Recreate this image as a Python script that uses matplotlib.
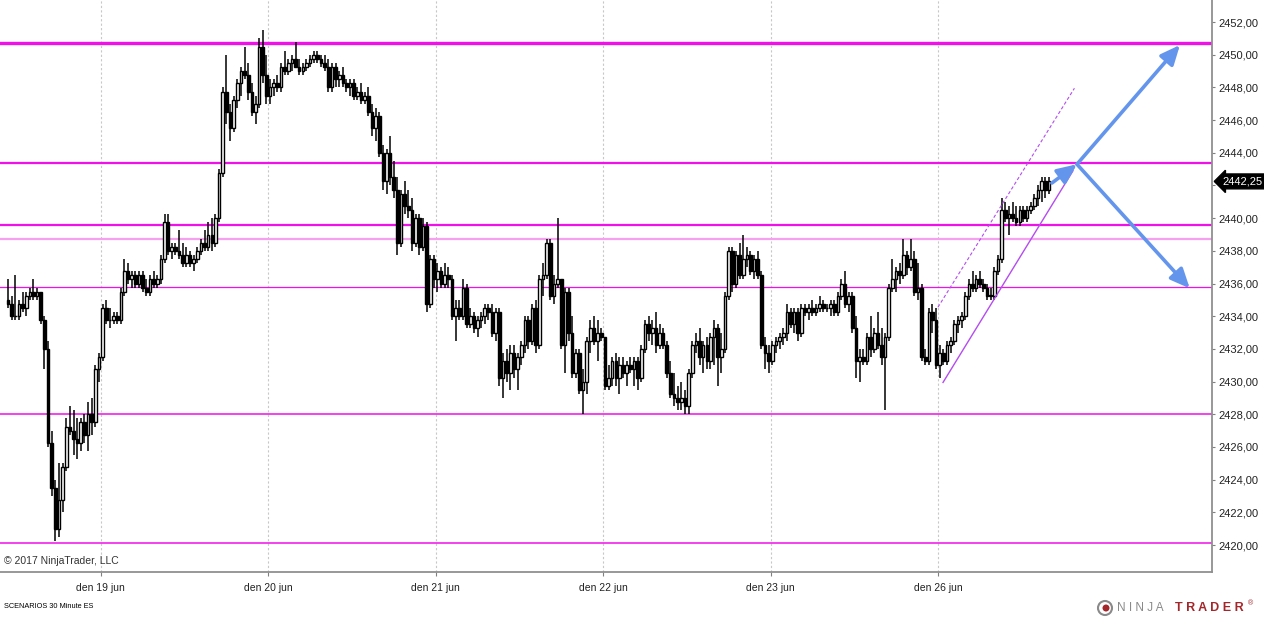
import numpy as np
import matplotlib.pyplot as plt
from matplotlib.patches import Circle
from matplotlib.transforms import IdentityTransform

plt.rcParams['font.family'] = ['Liberation Sans', 'DejaVu Sans']

# 30 minute ES bars
opens = [
    2435.0, 2434.75, 2434.0, 2434.0, 2434.75, 2434.5, 2435.25, 2435.5, 2435.25, 2435.5,
    2433.75, 2432.0, 2426.25, 2423.5, 2421.0, 2422.75, 2424.75, 2427.25, 2427.0, 2426.5,
    2426.25, 2427.5, 2426.75, 2428.0, 2427.5, 2430.75, 2431.5, 2434.5, 2433.75, 2433.75,
    2434.0, 2433.75, 2435.5, 2436.75, 2436.25, 2436.5, 2436.0, 2436.5, 2435.75, 2435.5,
    2436.25, 2436.0, 2436.25, 2437.5, 2439.75, 2438.0, 2438.25, 2438.0, 2437.75, 2437.25,
    2437.75, 2437.25, 2437.5, 2438.0, 2438.5, 2438.25, 2439.0, 2438.5, 2440.0, 2442.75,
    2447.75, 2446.5, 2445.5, 2447.25, 2448.25, 2449.0, 2448.75, 2447.75, 2446.5, 2447.0,
    2450.5, 2448.75, 2447.5, 2448.0, 2448.25, 2448.0, 2449.25, 2449.0, 2449.5, 2449.75,
    2449.25, 2449.0, 2449.25, 2449.5, 2449.75, 2450.0, 2449.75, 2449.5, 2449.25, 2448.0,
    2449.25, 2448.5, 2448.75, 2448.25, 2448.0, 2448.25, 2447.5, 2447.75, 2447.25, 2447.5,
    2446.5, 2445.5, 2446.25, 2444.0, 2442.25, 2444.0, 2442.5, 2441.75, 2438.5, 2441.5,
    2440.75, 2440.5, 2438.5, 2440.0, 2438.25, 2439.5, 2434.75, 2437.5, 2436.25, 2436.75,
    2436.0, 2436.5, 2436.25, 2434.0, 2434.5, 2434.0, 2435.75, 2433.5, 2434.0, 2433.25,
    2433.75, 2434.0, 2434.5, 2434.25, 2433.0, 2434.25, 2430.25, 2431.25, 2430.5, 2431.75,
    2430.75, 2431.5, 2432.25, 2433.75, 2432.5, 2434.5, 2432.25, 2436.25, 2436.5, 2438.5,
    2435.25, 2436.0, 2436.25, 2432.25, 2435.5, 2433.0, 2430.5, 2431.75, 2429.5, 2430.0,
    2432.5, 2433.25, 2432.5, 2433.0, 2432.75, 2429.75, 2430.25, 2431.25, 2430.25, 2431.0,
    2430.5, 2431.0, 2430.75, 2431.25, 2430.25, 2432.0, 2433.5, 2433.0, 2433.25, 2432.25,
    2433.0, 2432.25, 2430.5, 2429.25, 2429.0, 2428.75, 2429.0, 2428.5, 2430.5, 2432.25,
    2432.5, 2431.5, 2432.25, 2431.25, 2432.75, 2433.25, 2431.5, 2432.0, 2435.25, 2438.0,
    2436.0, 2437.75, 2436.5, 2437.5, 2437.75, 2436.75, 2437.5, 2436.5, 2432.25, 2431.75,
    2431.25, 2432.25, 2432.5, 2432.75, 2433.0, 2434.25, 2433.5, 2434.25, 2433.0, 2434.5,
    2434.25, 2434.5, 2434.25, 2434.5, 2434.75, 2434.5, 2434.5, 2434.75, 2434.25, 2435.25,
    2436.0, 2434.75, 2435.25, 2433.25, 2431.25, 2431.5, 2431.25, 2432.75, 2432.0, 2433.0,
    2432.25, 2431.5, 2432.75, 2435.75, 2436.25, 2436.75, 2436.5, 2437.75, 2437.0, 2437.5,
    2435.5, 2435.75, 2431.5, 2431.25, 2434.25, 2433.75, 2431.0, 2431.75, 2431.25, 2432.25,
    2432.5, 2433.5, 2433.75, 2434.0, 2435.25, 2436.0, 2435.75, 2436.25, 2436.0, 2435.75,
    2435.25, 2435.25, 2436.75, 2437.5, 2440.5, 2440.0, 2440.25, 2440.0, 2439.75, 2440.5,
    2440.0, 2440.5, 2440.75, 2441.25, 2441.75, 2442.25, 2441.75,
]
highs = [
    2436.25, 2435.25, 2436.5, 2435.0, 2435.5, 2435.5, 2435.75, 2436.25, 2435.75, 2435.5,
    2434.0, 2432.5, 2427.0, 2424.0, 2425.0, 2425.0, 2427.75, 2428.5, 2428.25, 2427.75,
    2427.75, 2428.0, 2428.75, 2429.0, 2431.0, 2431.75, 2434.75, 2435.0, 2434.5, 2434.25,
    2434.25, 2435.75, 2437.5, 2437.25, 2436.75, 2436.75, 2436.75, 2436.75, 2436.25, 2436.5,
    2436.75, 2436.5, 2437.75, 2440.25, 2440.25, 2438.5, 2438.5, 2439.25, 2438.5, 2438.25,
    2438.0, 2437.75, 2438.25, 2438.75, 2439.25, 2439.75, 2440.0, 2440.25, 2443.0, 2448.0,
    2450.0, 2447.0, 2447.5, 2448.5, 2449.25, 2450.5, 2449.5, 2448.25, 2447.5, 2451.0,
    2451.5, 2450.0, 2448.5, 2448.5, 2448.75, 2449.5, 2450.25, 2449.75, 2450.0, 2450.75,
    2449.75, 2449.5, 2449.75, 2450.0, 2450.25, 2450.25, 2450.0, 2450.0, 2449.75, 2449.5,
    2449.5, 2449.0, 2449.25, 2448.5, 2448.5, 2448.5, 2448.0, 2448.25, 2447.75, 2448.0,
    2447.0, 2446.75, 2446.5, 2444.5, 2444.25, 2445.0, 2443.5, 2442.5, 2441.75, 2442.25,
    2441.75, 2441.25, 2440.25, 2440.25, 2440.0, 2439.75, 2437.75, 2437.75, 2437.25, 2437.0,
    2437.25, 2437.0, 2436.5, 2435.0, 2435.0, 2436.25, 2436.0, 2434.5, 2434.25, 2434.0,
    2434.25, 2434.75, 2434.75, 2434.75, 2434.5, 2434.5, 2431.75, 2432.0, 2432.25, 2432.25,
    2431.75, 2432.5, 2434.0, 2434.0, 2434.75, 2435.0, 2436.5, 2437.25, 2438.75, 2438.75,
    2436.5, 2440.0, 2436.25, 2435.75, 2435.75, 2434.0, 2432.0, 2432.0, 2430.75, 2432.75,
    2433.75, 2434.0, 2433.75, 2433.25, 2432.75, 2431.0, 2431.5, 2431.75, 2431.5, 2431.5,
    2431.25, 2431.5, 2431.5, 2431.5, 2432.25, 2433.75, 2434.0, 2433.75, 2434.25, 2433.5,
    2433.25, 2432.5, 2431.25, 2430.5, 2429.75, 2430.0, 2429.5, 2430.75, 2432.5, 2433.0,
    2433.25, 2432.5, 2432.75, 2433.0, 2433.75, 2433.5, 2433.0, 2435.5, 2438.25, 2438.25,
    2438.0, 2438.5, 2439.0, 2438.25, 2438.0, 2437.75, 2438.0, 2436.75, 2432.75, 2432.25,
    2432.5, 2432.75, 2433.0, 2433.25, 2434.75, 2434.5, 2434.5, 2434.5, 2434.75, 2434.75,
    2434.75, 2435.0, 2434.75, 2435.25, 2435.0, 2434.75, 2435.0, 2435.0, 2435.5, 2436.25,
    2436.75, 2435.5, 2435.5, 2434.0, 2432.0, 2432.0, 2433.0, 2434.0, 2433.25, 2434.25,
    2433.25, 2433.0, 2436.0, 2437.5, 2437.0, 2437.25, 2438.75, 2438.0, 2438.75, 2438.0,
    2437.25, 2436.0, 2432.0, 2434.5, 2434.75, 2434.5, 2432.25, 2432.0, 2432.5, 2432.75,
    2433.75, 2434.0, 2434.25, 2435.5, 2436.25, 2436.75, 2436.5, 2436.75, 2436.25, 2436.0,
    2435.75, 2437.0, 2437.75, 2441.25, 2441.0, 2440.75, 2441.0, 2440.75, 2440.75, 2440.75,
    2440.75, 2441.0, 2441.5, 2442.0, 2442.5, 2442.5, 2442.5,
]
lows = [
    2434.5, 2433.75, 2433.75, 2433.75, 2434.25, 2434.0, 2435.0, 2435.0, 2435.0, 2433.5,
    2430.75, 2426.0, 2423.0, 2420.25, 2420.5, 2422.0, 2424.5, 2426.75, 2425.5, 2425.25,
    2425.75, 2426.25, 2425.75, 2426.75, 2427.25, 2430.0, 2431.25, 2433.5, 2433.25, 2433.5,
    2433.5, 2433.5, 2435.25, 2436.0, 2435.75, 2435.75, 2435.75, 2435.5, 2435.25, 2435.25,
    2435.75, 2435.75, 2436.0, 2437.25, 2437.75, 2437.5, 2437.75, 2437.5, 2437.0, 2437.0,
    2437.0, 2436.75, 2437.25, 2437.75, 2438.0, 2438.0, 2438.0, 2438.25, 2439.75, 2442.5,
    2445.75, 2444.75, 2445.25, 2446.75, 2447.5, 2448.5, 2447.25, 2446.25, 2445.75, 2446.75,
    2448.25, 2447.0, 2447.0, 2447.5, 2447.75, 2447.75, 2448.75, 2448.75, 2449.0, 2449.25,
    2448.75, 2448.75, 2449.0, 2449.25, 2449.5, 2449.5, 2449.25, 2449.0, 2447.75, 2447.75,
    2448.0, 2448.0, 2448.0, 2447.75, 2447.5, 2447.25, 2447.25, 2447.0, 2447.0, 2446.25,
    2445.0, 2444.75, 2443.75, 2441.75, 2441.5, 2442.0, 2441.25, 2437.75, 2438.25, 2440.25,
    2440.0, 2438.0, 2438.25, 2437.75, 2438.0, 2434.25, 2434.5, 2435.75, 2435.5, 2435.75,
    2435.75, 2435.75, 2433.75, 2432.5, 2433.75, 2433.75, 2433.25, 2433.25, 2433.0, 2432.75,
    2433.25, 2433.5, 2433.75, 2432.75, 2432.5, 2429.75, 2429.0, 2430.0, 2429.5, 2430.25,
    2429.5, 2431.0, 2431.75, 2432.0, 2432.25, 2431.75, 2432.0, 2435.25, 2436.25, 2435.0,
    2434.75, 2435.75, 2432.0, 2430.5, 2432.5, 2430.25, 2430.25, 2429.25, 2428.0, 2429.25,
    2431.75, 2432.25, 2431.25, 2432.5, 2429.5, 2429.5, 2429.75, 2429.75, 2429.25, 2430.25,
    2429.75, 2430.5, 2429.75, 2429.5, 2430.0, 2431.75, 2432.5, 2432.25, 2431.75, 2432.0,
    2432.0, 2430.25, 2429.0, 2428.5, 2428.25, 2428.25, 2428.0, 2428.0, 2430.25, 2431.75,
    2431.0, 2430.5, 2430.75, 2430.75, 2431.0, 2429.75, 2430.5, 2431.75, 2435.0, 2435.5,
    2435.75, 2436.25, 2436.25, 2437.0, 2436.5, 2436.25, 2436.25, 2432.0, 2430.75, 2430.5,
    2431.0, 2431.75, 2432.0, 2432.25, 2432.5, 2433.25, 2433.0, 2432.5, 2432.75, 2434.0,
    2433.75, 2434.0, 2434.0, 2434.25, 2434.25, 2434.25, 2434.0, 2434.0, 2434.0, 2435.0,
    2434.5, 2434.25, 2433.0, 2430.25, 2430.0, 2431.0, 2431.0, 2431.5, 2431.75, 2432.0,
    2431.0, 2428.25, 2432.5, 2435.5, 2435.5, 2436.0, 2436.25, 2436.5, 2436.75, 2435.25,
    2435.0, 2431.25, 2431.0, 2431.0, 2433.0, 2430.75, 2430.25, 2431.0, 2431.0, 2431.75,
    2432.25, 2433.0, 2433.25, 2433.75, 2435.0, 2435.5, 2435.5, 2435.75, 2435.5, 2435.0,
    2435.0, 2435.0, 2436.5, 2437.25, 2439.75, 2439.0, 2439.75, 2439.5, 2439.5, 2439.75,
    2439.75, 2440.25, 2440.5, 2440.75, 2441.0, 2441.25, 2441.5,
]
closes = [
    2434.75, 2434.0, 2434.0, 2434.75, 2434.5, 2435.25, 2435.5, 2435.25, 2435.5, 2433.75,
    2432.0, 2426.25, 2423.5, 2421.0, 2422.75, 2424.75, 2427.25, 2427.0, 2426.5, 2426.25,
    2427.5, 2426.75, 2428.0, 2427.5, 2430.75, 2431.5, 2434.5, 2433.75, 2433.75, 2434.0,
    2433.75, 2435.5, 2436.75, 2436.25, 2436.5, 2436.0, 2436.5, 2435.75, 2435.5, 2436.25,
    2436.0, 2436.25, 2437.5, 2439.75, 2438.0, 2438.25, 2438.0, 2437.75, 2437.25, 2437.75,
    2437.25, 2437.5, 2438.0, 2438.5, 2438.25, 2439.0, 2438.5, 2440.0, 2442.75, 2447.75,
    2446.5, 2445.5, 2447.25, 2448.25, 2449.0, 2448.75, 2447.75, 2446.5, 2447.0, 2450.5,
    2448.75, 2447.5, 2448.0, 2448.25, 2448.0, 2449.25, 2449.0, 2449.5, 2449.75, 2449.25,
    2449.0, 2449.25, 2449.5, 2449.75, 2450.0, 2449.75, 2449.5, 2449.25, 2448.0, 2449.25,
    2448.5, 2448.75, 2448.25, 2448.0, 2448.25, 2447.5, 2447.75, 2447.25, 2447.5, 2446.5,
    2445.5, 2446.25, 2444.0, 2442.25, 2444.0, 2442.5, 2441.75, 2438.5, 2441.5, 2440.75,
    2440.5, 2438.5, 2440.0, 2438.25, 2439.5, 2434.75, 2437.5, 2436.25, 2436.75, 2436.0,
    2436.5, 2436.25, 2434.0, 2434.5, 2434.0, 2435.75, 2433.5, 2434.0, 2433.25, 2433.75,
    2434.0, 2434.5, 2434.25, 2433.0, 2434.25, 2430.25, 2431.25, 2430.5, 2431.75, 2430.75,
    2431.5, 2432.25, 2433.75, 2432.5, 2434.5, 2432.25, 2436.25, 2436.5, 2438.5, 2435.25,
    2436.0, 2436.25, 2432.25, 2435.5, 2433.0, 2430.5, 2431.75, 2429.5, 2430.0, 2432.5,
    2433.25, 2432.5, 2433.0, 2432.75, 2429.75, 2430.25, 2431.25, 2430.25, 2431.0, 2430.5,
    2431.0, 2430.75, 2431.25, 2430.25, 2432.0, 2433.5, 2433.0, 2433.25, 2432.25, 2433.0,
    2432.25, 2430.5, 2429.25, 2429.0, 2428.75, 2429.0, 2428.5, 2430.5, 2432.25, 2432.5,
    2431.5, 2432.25, 2431.25, 2432.75, 2433.25, 2431.5, 2432.0, 2435.25, 2438.0, 2436.0,
    2437.75, 2436.5, 2437.5, 2437.75, 2436.75, 2437.5, 2436.5, 2432.25, 2431.75, 2431.25,
    2432.25, 2432.5, 2432.75, 2433.0, 2434.25, 2433.5, 2434.25, 2433.0, 2434.5, 2434.25,
    2434.5, 2434.25, 2434.5, 2434.75, 2434.5, 2434.5, 2434.75, 2434.25, 2435.25, 2436.0,
    2434.75, 2435.25, 2433.25, 2431.25, 2431.5, 2431.25, 2432.75, 2432.0, 2433.0, 2432.25,
    2431.5, 2432.75, 2435.75, 2436.25, 2436.75, 2436.5, 2437.75, 2437.0, 2437.5, 2435.5,
    2435.75, 2431.5, 2431.25, 2434.25, 2433.75, 2431.0, 2431.75, 2431.25, 2432.25, 2432.5,
    2433.5, 2433.75, 2434.0, 2435.25, 2436.0, 2435.75, 2436.25, 2436.0, 2435.75, 2435.25,
    2435.25, 2436.75, 2437.5, 2440.5, 2440.0, 2440.25, 2440.0, 2439.75, 2440.5, 2440.0,
    2440.5, 2440.75, 2441.25, 2441.75, 2442.25, 2441.75, 2442.25,
]

day_labels = ["den 19 jun", "den 20 jun", "den 21 jun", "den 22 jun", "den 23 jun", "den 26 jun"]
day_first_bar = [26, 72, 118, 164, 210, 256]

# drawn support / resistance levels
levels = [2450.7, 2443.35, 2439.6, 2435.8, 2428.0, 2420.1]
level_lw = [2.4, 1.6, 1.6, 0.9, 1.1, 1.1]
pink_level = 2438.75
last_price = 2442.25

# channel (bar index, price)
chan_upper = ([255.5, 293.0], [2434.55, 2447.95])
chan_lower = ([256.9, 292.6], [2429.95, 2442.9])

# scenario arrows (bar index, price)
arrow_start = (286.8, 2442.15)
arrow_pivot = (293.7, 2443.3)
arrow_up = (322.0, 2450.6)
arrow_down = (324.7, 2435.7)

o = np.array(opens)
h = np.array(highs)
l = np.array(lows)
c = np.array(closes)
x = np.arange(len(c))

fig = plt.figure(figsize=(12.64, 6.17), dpi=100)
ax = fig.add_axes([0, 45 / 617, 1212 / 1264, 572 / 617])

magenta = "#f010e8"
for lev, lw in zip(levels, level_lw):
    ax.axhline(lev, color=magenta, lw=lw, zorder=1)
ax.axhline(pink_level, color="#f6a0f0", lw=1.6, zorder=1)

for d in day_first_bar:
    ax.axvline(d - 0.5, color="#c8c8c8", lw=0.8, ls=(0, (2, 2)), zorder=0)

# candles
ax.vlines(x, l, h, color="black", lw=1.1, zorder=3)
body = np.where(np.abs(c - o) < 0.01, 0.03, c - o)
ax.bar(x, body, bottom=o, width=0.72,
       color=np.where(c < o, "black", "white"),
       edgecolor="black", linewidth=1.0, zorder=4)

# channel
ax.plot(chan_upper[0], chan_upper[1], color="#b44cf0", lw=0.8, ls=(0, (3, 2)), zorder=5)
ax.plot(chan_lower[0], chan_lower[1], color="#b44cf0", lw=1.0, zorder=5)

blue = "#6495ed"
aprops = dict(arrowstyle="-|>,head_length=0.45,head_width=0.2", color=blue, lw=2.6,
              mutation_scale=26, shrinkA=0, shrinkB=0)
ax.annotate("", xy=arrow_pivot, xytext=arrow_start, arrowprops=aprops, zorder=6)
ax.annotate("", xy=arrow_up, xytext=arrow_pivot, arrowprops=aprops, zorder=6)
ax.annotate("", xy=arrow_down, xytext=arrow_pivot, arrowprops=aprops, zorder=6)

ax.set_xlim(-2.2, 330.8)
ax.set_ylim(2418.35, 2453.35)

# the 2442 label sits under the last price marker
yt = np.arange(2420, 2453, 2)
ax.yaxis.tick_right()
ax.set_yticks(yt)
ax.set_yticklabels(["" if v == 2442 else f"{v:.2f}".replace(".", ",") for v in yt])
ax.tick_params(axis="y", direction="out", length=2.5, width=0.8, color="#808080",
               labelsize=8, pad=2, labelcolor="#222222")

ax.set_xticks(np.array(day_first_bar) - 0.5)
ax.set_xticklabels(day_labels)
ax.tick_params(axis="x", direction="out", length=3, width=0.8, color="#808080",
               labelsize=7.5, pad=5, labelcolor="#222222")

for s in ["top", "left"]:
    ax.spines[s].set_visible(False)
for s in ["right", "bottom"]:
    ax.spines[s].set_color("#909090")
    ax.spines[s].set_linewidth(1.3)

ax.annotate(f"{last_price:.2f}".replace(".", ","), xy=(1.0, last_price),
            xycoords=("axes fraction", "data"), xytext=(7.5, 0),
            textcoords="offset points", ha="left", va="center",
            color="white", fontsize=8, annotation_clip=False,
            bbox=dict(boxstyle="larrow,pad=0.22", fc="black", ec="black"))

fig.text(4 / 1264, 1 - 561 / 617, "© 2017 NinjaTrader, LLC", fontsize=7.5,
         va="center", ha="left", color="#333333")
fig.text(4 / 1264, 1 - 607 / 617, "SCENARIOS 30 Minute ES", fontsize=5.3,
         va="center", ha="left", color="black")

# NinjaTrader logo
fig.text(1117 / 1264, 1 - 608 / 617, "N I N J A", fontsize=8.5, va="center",
         ha="left", color="#8a8a8a")
fig.text(1175 / 1264, 1 - 608 / 617, "T R A D E R", fontsize=9, va="center",
         ha="left", color="#a3262a", fontweight="bold")
fig.text(1248 / 1264, 1 - 604 / 617, "®", fontsize=5, va="center", ha="left",
         color="#a3262a")
fig.patches.append(Circle((1105, 617 - 608), 7, transform=IdentityTransform(),
                          fc="none", ec="#8a8a8a", lw=1.5))
fig.patches.append(Circle((1106, 617 - 608), 3.5, transform=IdentityTransform(),
                          fc="#a3262a", ec="none"))

fig.savefig("out.png", dpi=100, facecolor="white")
